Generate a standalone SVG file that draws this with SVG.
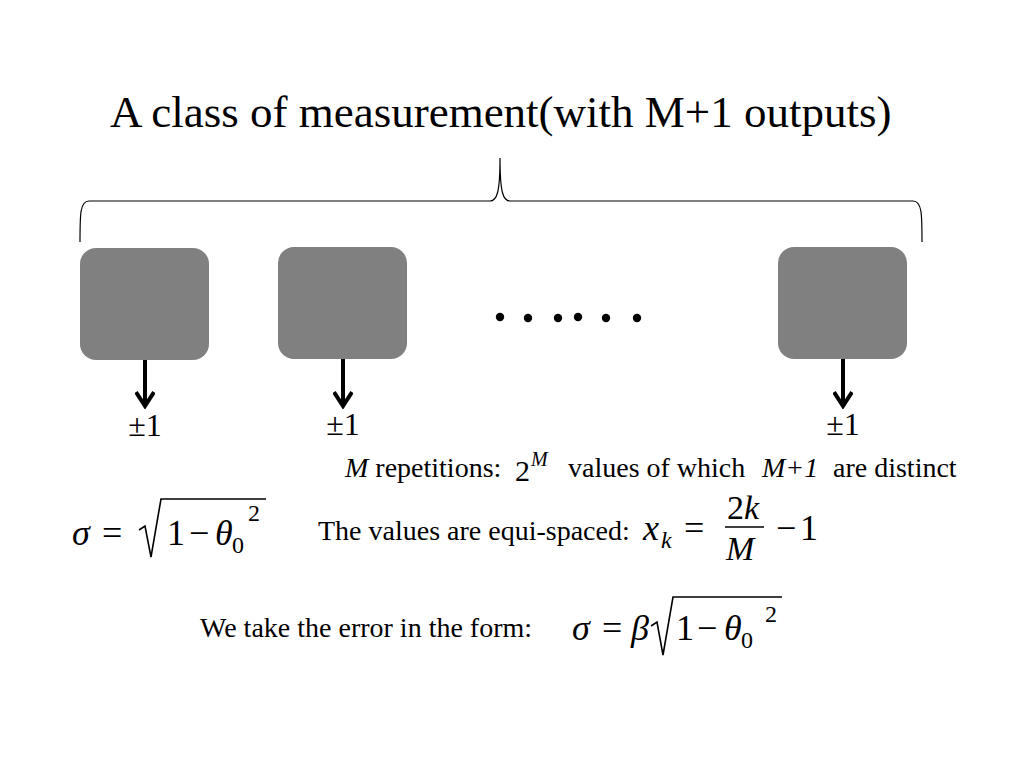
<svg xmlns="http://www.w3.org/2000/svg" width="1024" height="768" viewBox="0 0 1024 768">
<style>
text{font-family:'Liberation Serif','DejaVu Serif',serif;fill:#000}
.i{font-style:italic}
.box{fill:#808080}
.rad{fill:none;stroke:#000;stroke-width:1.6;stroke-linejoin:miter}
.arr{stroke:#000;stroke-width:4;fill:none}
</style>
<defs>
<marker id="chev" viewBox="0 0 20 20" refX="17" refY="10" markerWidth="20" markerHeight="20" markerUnits="userSpaceOnUse" orient="auto">
<path d="M3,1 L17,10 L3,19" fill="none" stroke="#000" stroke-width="4" stroke-linejoin="miter"/>
</marker>
</defs>
<rect width="1024" height="768" fill="#fff"/>
<text x="110" y="127" font-size="45" font-family="Liberation Serif">A class of measurement(with M+1 outputs)</text>
<path d="M80,242 C80,214 80,201 89,201 L490,201 C497,201 500,192 500,158 C500,192 503,201 510,201 L913,201 C922,201 922,214 922,242" fill="none" stroke="#000" stroke-width="1.2"/>
<g id="node1"><rect class="box" x="80" y="248" width="129" height="112" rx="16"/></g>
<g id="node2"><rect class="box" x="278" y="247" width="129" height="112" rx="16"/></g>
<g id="node3"><rect class="box" x="778" y="247" width="129" height="112" rx="16"/></g>
<g id="dots" fill="#000">
<circle cx="500" cy="317" r="4.2"/><circle cx="528" cy="318" r="4.2"/><circle cx="558" cy="318" r="4.2"/><circle cx="578" cy="317" r="4.2"/><circle cx="606" cy="318" r="4.2"/><circle cx="637" cy="318" r="4.2"/>
</g>
<g id="connectors">
<line class="arr" x1="145" y1="360" x2="145" y2="406" marker-end="url(#chev)"/>
<line class="arr" x1="343" y1="359" x2="343" y2="406" marker-end="url(#chev)"/>
<line class="arr" x1="843" y1="359" x2="843" y2="406" marker-end="url(#chev)"/>
</g>
<g id="labels">
<text x="145" y="436" font-size="32" text-anchor="middle">±1</text>
<text x="343" y="435" font-size="32" text-anchor="middle">±1</text>
<text x="843" y="435" font-size="32" text-anchor="middle">±1</text>
</g>
<g id="line1">
<text x="345" y="477" font-size="28"><tspan class="i">M</tspan> repetitions:</text>
<text x="515" y="481" font-size="30">2</text>
<text class="i" x="531" y="466" font-size="20">M</text>
<text x="568" y="477" font-size="28">values of which</text>
<text class="i" x="762" y="477" font-size="28">M+1</text>
<text x="833" y="477" font-size="28">are distinct</text>
</g>
<g id="formula1">
<text class="i" x="72" y="545" font-size="36">σ</text>
<text x="102" y="545" font-size="36">=</text>
<path class="rad" d="M139,530 L145,526 L151,557 L161,499 L266,499"/>
<text x="167" y="545" font-size="36">1</text>
<text x="189" y="545" font-size="36">−</text>
<text class="i" x="215" y="545" font-size="36">θ</text>
<text x="232" y="553" font-size="24">0</text>
<text x="248" y="521" font-size="24">2</text>
</g>
<g id="line2">
<text x="318" y="540" font-size="28">The values are equi-spaced:</text>
<text class="i" x="643" y="540" font-size="36">x</text>
<text class="i" x="661" y="548" font-size="24">k</text>
<text x="684" y="540" font-size="36">=</text>
<text x="727" y="519" font-size="34">2<tspan class="i">k</tspan></text>
<line x1="725" y1="527" x2="764" y2="527" stroke="#000" stroke-width="1.6"/>
<text class="i" x="726" y="560" font-size="34">M</text>
<text x="776" y="540" font-size="36">−</text>
<text x="800" y="540" font-size="36">1</text>
</g>
<g id="line3">
<text x="200" y="637" font-size="28">We take the error in the form:</text>
<text class="i" x="572" y="640" font-size="36">σ</text>
<text x="602" y="640" font-size="36">=</text>
<text class="i" x="631" y="640" font-size="36">β</text>
<path class="rad" d="M651,626 L657,622 L663,655 L673,597 L782,597"/>
<text x="676" y="640" font-size="36">1</text>
<text x="697" y="640" font-size="36">−</text>
<text class="i" x="724" y="640" font-size="36">θ</text>
<text x="741" y="648" font-size="24">0</text>
<text x="765" y="622" font-size="24">2</text>
</g>
</svg>
